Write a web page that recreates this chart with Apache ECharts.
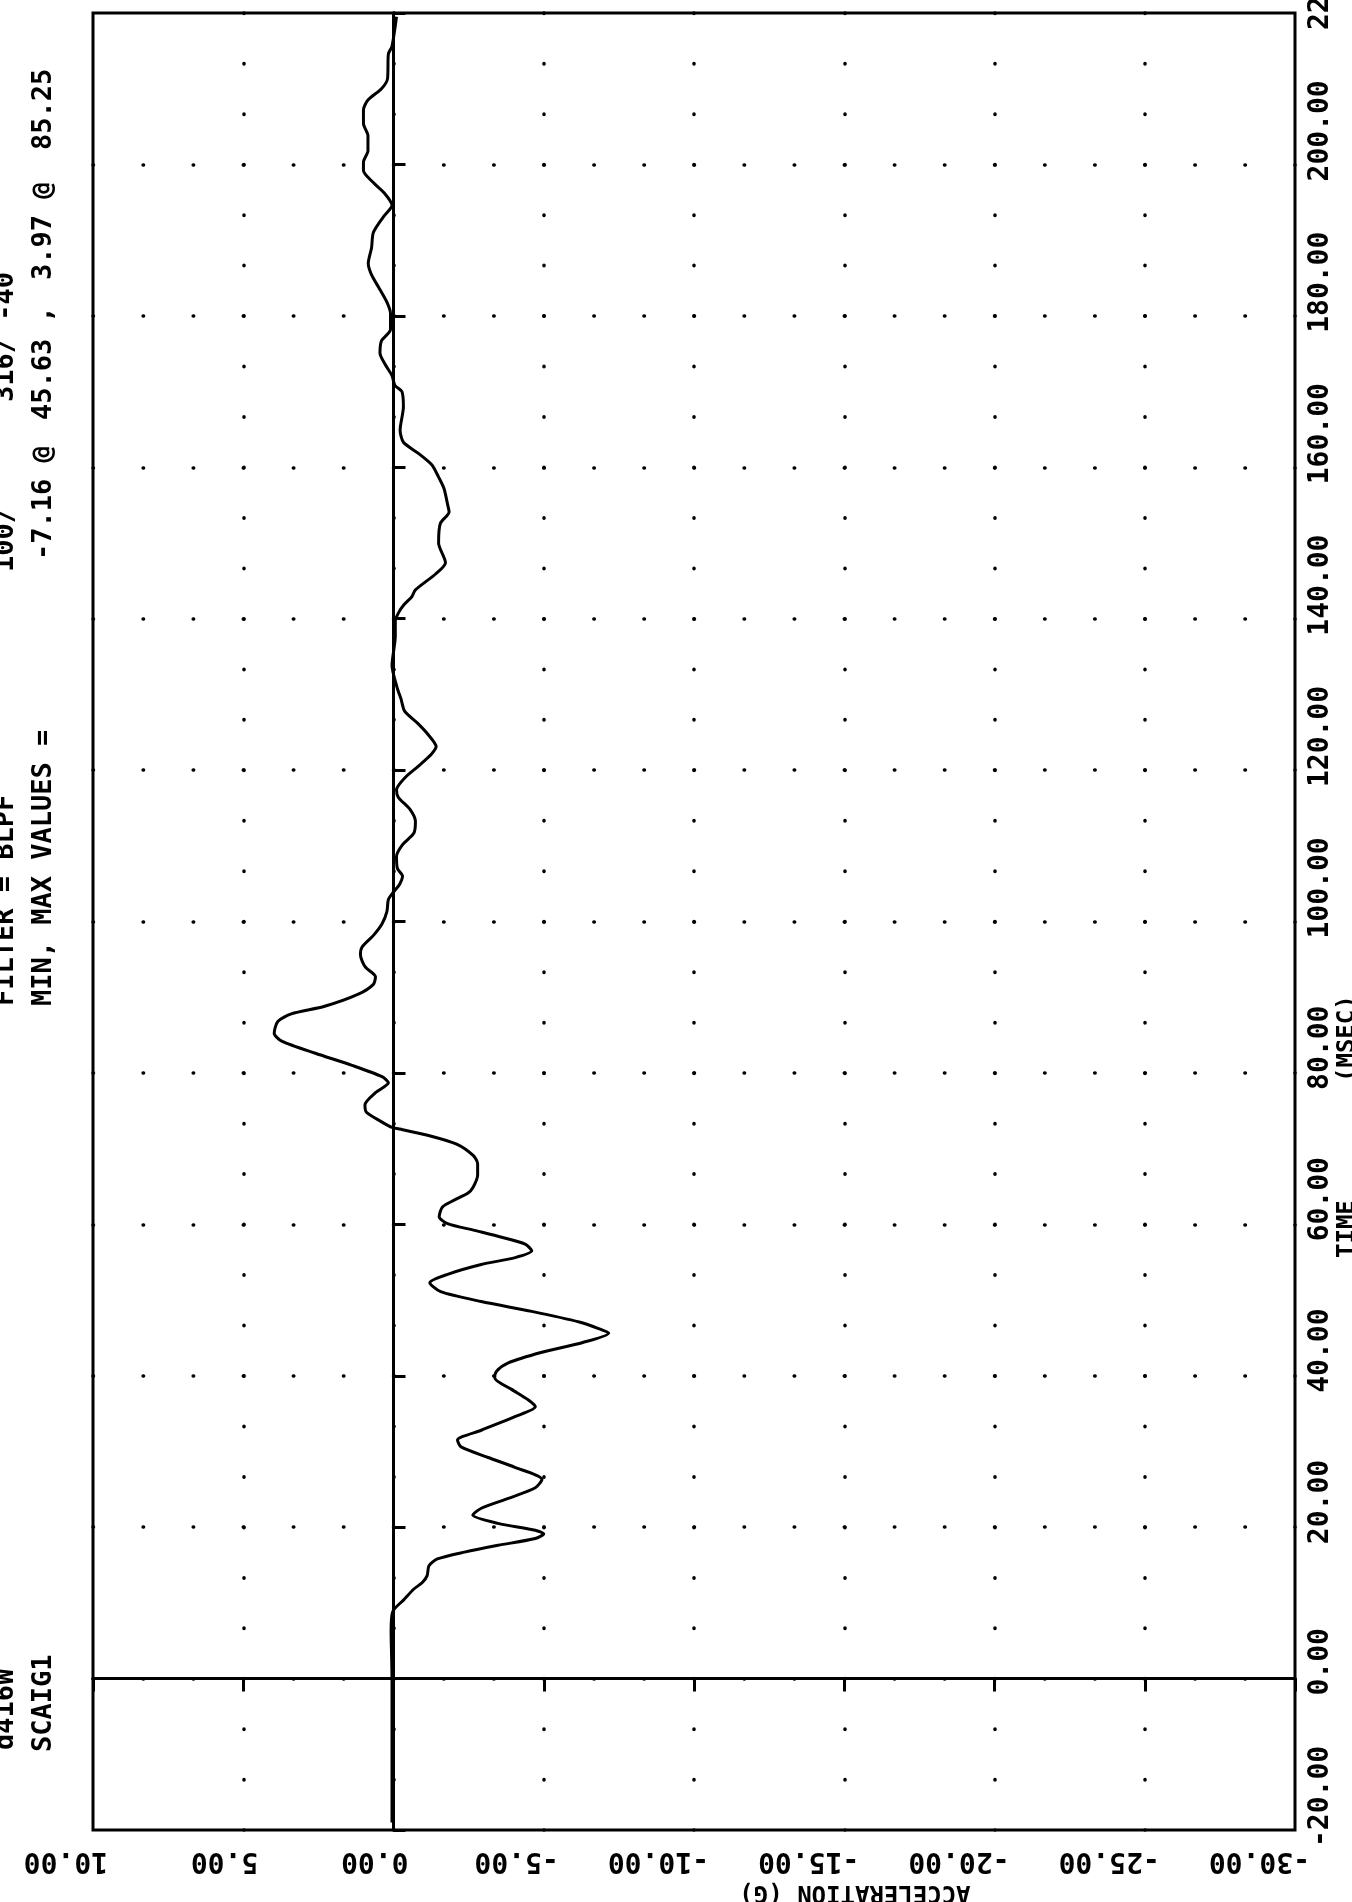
<!DOCTYPE html>
<html>
<head>
<meta charset="utf-8">
<title>Acceleration vs time</title>
<script src="https://cdn.jsdelivr.net/npm/echarts@6/dist/echarts.min.js"></script>
<style>
  html, body { margin: 0; padding: 0; background: #fff; }
  #chart { width: 1352px; height: 1902px; }
</style>
</head>
<body>
<div id="chart"></div>
<script>
// time in msec (bottom to top of the page)
var timeMs = [
    -19, -10, 0, 6.4, 8.9, 10.4, 11.8, 12.7, 13.6, 14.9, 15.8, 16.7, 17.6, 18.5, 19.1, 19.6,
    20.5, 21.6, 22.5, 23.8, 25.2, 26.3, 27.9, 29.2, 30.6, 31.5, 32.8, 34.6, 35.9, 36.8, 38.2,
    39.7, 40.6, 41.7, 43.1, 44.4, 45.63, 46.2, 47.1, 48.5, 49.8, 51.1, 52.3, 53.4, 54.7, 55.6,
    56.5, 57.4, 58.3, 59.2, 60.1, 61, 62.3, 63.2, 64.1, 64.9, 66.5, 68, 69.1, 70.6, 71.7, 72.5,
    72.8, 73.5, 74.8, 75.8, 77.4, 78.7, 79.5, 81, 82.6, 84.2, 85.25, 86.8, 87.8, 88.8, 90.4,
    91.7, 92.7, 94, 95.6, 96.6, 98.2, 99.7, 101.3, 102.9, 103.9, 104.9, 106, 107, 108.6, 110.1,
    111.7, 113.2, 114.8, 116.4, 117.4, 119, 120.5, 122.1, 123.1, 124.7, 126.2, 127.8, 129.4,
    130.9, 133.8, 137.7, 139.7, 140.8, 141.8, 142.9, 143.8, 145.9, 147.4, 150, 152.6, 154.1,
    155.1, 157.2, 158.7, 160.3, 161.8, 163.3, 164.9, 168, 170, 170.8, 172.1, 173.6, 175.1,
    176.7, 178.2, 180.3, 181.8, 183.8, 185.4, 186.9, 189, 191, 193.1, 194.6, 196.2, 197.7,
    199.2, 200.3, 201.8, 203.8, 205.4, 207.2, 208.5, 210, 211.3, 214.6, 215.6, 219.5
];
// acceleration in G at those times
var accelG = [
    0.05, 0.05, 0.05, 0.08, 0.02, -0.34, -0.67, -0.96, -1.12, -1.18, -1.46, -2.36, -3.48, -4.72, -5.0, -4.72,
    -3.48, -2.64, -2.92, -3.82, -4.72, -4.94, -4.04, -3.15, -2.25, -2.13, -2.92, -4.04, -4.72, -4.49, -3.93,
    -3.37, -3.43, -3.82, -4.94, -6.3, -7.16, -6.85, -6.18, -4.6, -2.92, -1.57, -1.21, -1.8, -2.92, -4.05,
    -4.6, -4.38, -3.6, -2.7, -1.8, -1.52, -1.63, -2.02, -2.47, -2.65, -2.8, -2.8, -2.65, -2.1, -1.2, -0.3,
    0.05, 0.38, 0.9, 0.95, 0.6, 0.17, 0.38, 1.38, 2.6, 3.72, 3.97, 3.85, 3.4, 2.29, 1.17,
    0.67, 0.6, 0.94, 1.1, 1.05, 0.66, 0.38, 0.22, 0.17, 0, -0.2, -0.3, -0.13, -0.1, -0.29,
    -0.68, -0.73, -0.55, -0.16, -0.1, -0.38, -0.82, -1.26, -1.42, -1.15, -0.8, -0.37, -0.25,
    -0.12, 0.05, -0.06, -0.06, -0.17, -0.34, -0.61, -0.73, -1.4, -1.73, -1.5, -1.56, -1.85,
    -1.8, -1.68, -1.5, -1.28, -0.84, -0.33, -0.22, -0.33, -0.28, -0.05, 0.05, 0.28, 0.45,
    0.4, 0.1, 0.1, 0.22, 0.5, 0.73, 0.84, 0.73, 0.67, 0.33, 0.05, 0.3, 0.7,
    1.0, 1.0, 0.85, 0.85, 1.0, 1.0, 0.85, 0.4, 0.2, 0.17, 0.05, -0.1
];
// axis ranges and ticks
var accelRange = [-30, 10];
var accelStep = 5;
var timeRange = [-20, 220];
var timeStep = 20;

// header lines of the plot (rotated with the page)
var header1 = ['d416W', 'FILTER = BLPF', '100/', '316/ -40'];
var header2 = ['SCAIG1', 'MIN, MAX VALUES =', '-7.16 @', '45.63 ,', '3.97 @', '85.25'];

var grid = { left: 93, right: 57, top: 13, bottom: 72 };
var W = 1352, H = 1902;
var gridW = W - grid.left - grid.right;
var gridH = H - grid.top - grid.bottom;
// dotted rule lines: three dots per major interval
var dotV = gridH / ((timeRange[1] - timeRange[0]) / timeStep * 3);
var dotH = gridW / ((accelRange[1] - accelRange[0]) / accelStep * 3);

var font = 'DejaVu Sans Mono';
var trace = timeMs.map(function (t, i) { return [accelG[i], t]; });

function vText(str, x, y, size) {
    return {
        type: 'text', x: x, y: y, rotation: Math.PI / 2,
        style: { text: str, fill: '#000', font: 'bold ' + size + 'px "DejaVu Sans Mono"', align: 'left', verticalAlign: 'middle' }
    };
}

var chart = echarts.init(document.getElementById('chart'), null, { renderer: 'canvas' });
chart.setOption({
    backgroundColor: '#fff',
    animation: false,
    grid: {
        left: grid.left, right: grid.right, top: grid.top, bottom: grid.bottom,
        outerBoundsMode: 'none', containLabel: false,
        show: true, borderColor: '#000', borderWidth: 3, backgroundColor: 'transparent'
    },
    xAxis: {
        type: 'value',
        inverse: true,
        min: accelRange[0], max: accelRange[1], interval: accelStep,
        position: 'bottom',
        axisLine: { show: true, lineStyle: { color: '#000', width: 3 } },
        axisTick: { show: true, length: 13, lineStyle: { color: '#000', width: 3 } },
        axisLabel: {
            rotate: 180, align: 'left', margin: 16, padding: [0, 0, 0, -15],
            color: '#000', fontFamily: font, fontWeight: 'bold', fontSize: 28,
            formatter: function (v) { return v.toFixed(2); }
        },
        splitLine: {
            show: true, showMinLine: false, showMaxLine: false,
            lineStyle: { color: '#000', width: 3.5, type: [0.5, dotV - 0.5], cap: 'round' }
        }
    },
    yAxis: {
        type: 'value',
        min: timeRange[0], max: timeRange[1], interval: timeStep,
        position: 'right',
        axisLine: { show: true, lineStyle: { color: '#000', width: 3 } },
        axisTick: { show: true, length: 12, lineStyle: { color: '#000', width: 3 } },
        axisLabel: {
            rotate: 90, align: 'left', margin: 12, padding: [0, 0, 0, -17],
            color: '#000', fontFamily: font, fontWeight: 'bold', fontSize: 28,
            showMinLabel: true, showMaxLabel: true,
            formatter: function (v) { return v.toFixed(2); }
        },
        splitLine: {
            show: true, showMinLine: false, showMaxLine: false,
            lineStyle: { color: '#000', width: 3.5, type: [0.5, dotH - 0.5], cap: 'round' }
        }
    },
    graphic: [
        vText(header1[0], 6, 1750, 27),
        vText(header1[1], 6, 1006, 27),
        vText(header1[2], 6, 572, 27),
        vText(header1[3], 6, 402, 27),
        vText(header2[0], 44, 1752, 27),
        vText(header2[1], 44, 1006, 27),
        vText(header2[2], 44, 560, 27),
        vText(header2[3], 44, 420, 27),
        vText(header2[4], 44, 280, 27),
        vText(header2[5], 44, 150, 27),
        { type: 'text', x: 855, y: 1892, rotation: Math.PI,
          style: { text: 'ACCELERATION (G)', fill: '#000', font: 'bold 24px "DejaVu Sans Mono"', align: 'center', verticalAlign: 'middle' } },
        vText('TIME', 1348, 1258, 24),
        vText('(MSEC)', 1348, 1082, 24)
    ],
    series: [{
        type: 'line',
        data: trace,
        showSymbol: false,
        symbol: 'none',
        smooth: 0.25,
        lineStyle: { color: '#000', width: 3 },
        markLine: {
            silent: true,
            symbol: 'none',
            label: { show: false },
            lineStyle: { color: '#000', width: 3, type: 'solid' },
            data: [{ xAxis: 0 }, { yAxis: 0 }]
        }
    }]
});
</script>
</body>
</html>
